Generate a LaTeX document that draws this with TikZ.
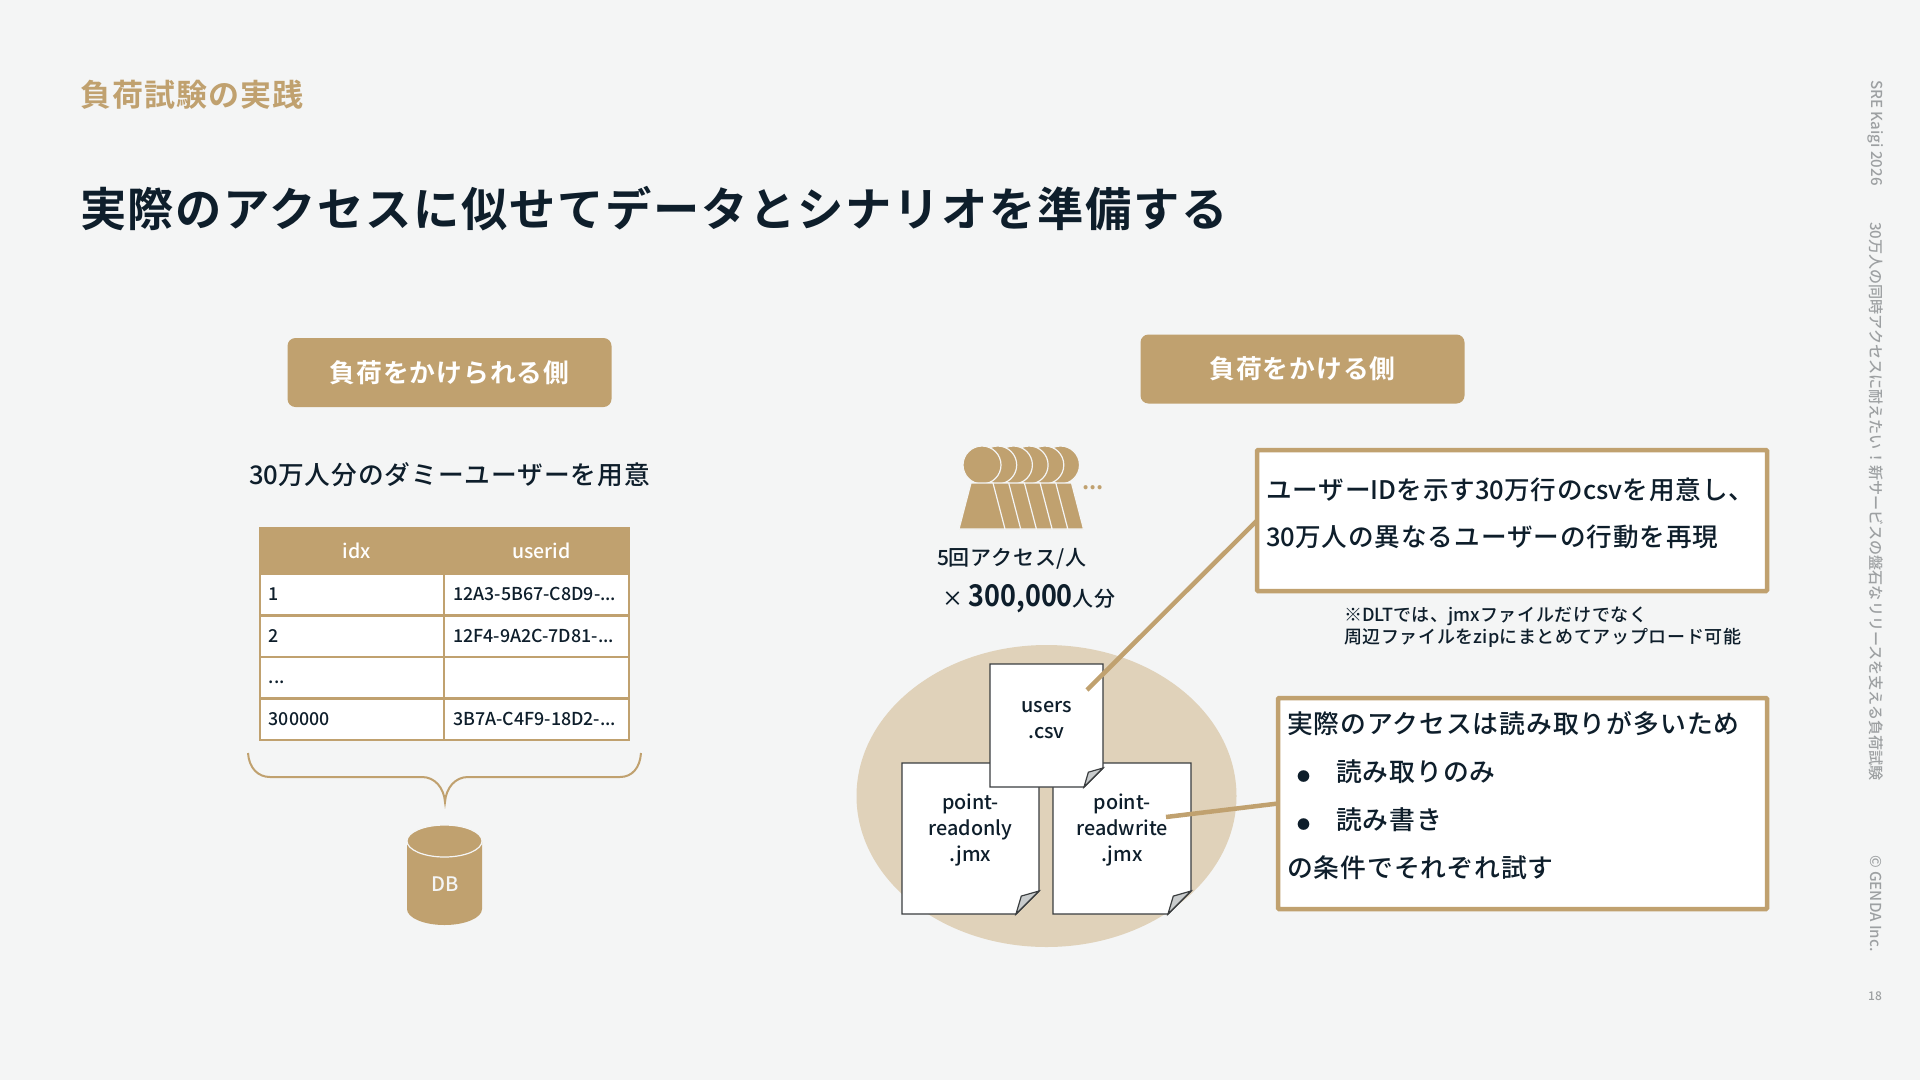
\documentclass[tikz,border=0pt]{standalone}
\usepackage{fontspec}
\setmainfont[LetterSpace=3.7,UprightFont=* Medium,BoldFont=* Bold]{Noto Sans CJK JP}
\newfontfamily\plainjp[UprightFont=* Medium,BoldFont=* Bold]{Noto Sans CJK JP}
\newcommand{\lat}[1]{{\plainjp #1}}
\usetikzlibrary{positioning,calc}
\definecolor{gendabg}{HTML}{F4F5F5}
\definecolor{gendatan}{HTML}{C0A16F}
\definecolor{gendasand}{HTML}{E0D2BA}
\definecolor{gendaink}{HTML}{0E1E2B}
\definecolor{gendagray}{HTML}{9DA0A2}
\definecolor{gendafold}{HTML}{C9CCCD}
\definecolor{gendaedge}{HTML}{3A3D3F}

\begin{document}
\begin{tikzpicture}[
  x=1pt,y=-1pt,
  txt/.style={inner sep=0pt,outer sep=0pt,text=gendaink,align=left},
  tagbox/.style={fill=gendatan,rounded corners=8pt,minimum width=324pt,minimum height=69pt,text=white,font=\fontsize{25.8}{32}\selectfont\bfseries},
  headcell/.style={draw=gendatan,line width=2.2pt,fill=gendatan,outer sep=0pt,minimum width=184.5pt,minimum height=46pt,text=white,font=\plainjp\fontsize{19.5}{24}\selectfont},
  cell/.style={draw=gendatan,line width=2.2pt,fill=white,outer sep=0pt,inner xsep=9pt,inner ysep=0pt,text width=166.5pt,minimum height=41.5pt,text height=14pt,text depth=2pt,text=gendaink,align=left,font=\plainjp\fontsize{17.8}{22}\selectfont},
  notebox/.style={draw=gendatan,line width=4.5pt,fill=white,rounded corners=1pt,outer sep=0pt},
  pointer/.style={draw=gendatan,line width=4.5pt},
  sidetxt/.style={inner sep=0pt,text=gendagray,rotate=-90,anchor=west,font=\plainjp\fontsize{15.1}{18}\selectfont}
]
  \fill[gendabg] (0,0) rectangle (1920,1080);

  \node[txt,anchor=west,text=gendatan,font=\fontsize{31}{36}\selectfont\bfseries] (section) at (80,95) {負荷試験の実践};
  \node[txt,anchor=west,font=\fontsize{46.3}{56}\selectfont\bfseries] (headline) at (80,208.5) {実際のアクセスに似せてデータとシナリオを準備する};

  \node[sidetxt] (conf) at (1876,80) {SRE Kaigi 2026};
  \node[sidetxt] (talk) at (1876,222) {30万人の同時アクセスに耐えたい！新サービスの盤石なリリースを支える負荷試験};
  \node[sidetxt] (copy) at (1876,855) {© GENDA Inc.};
  \node[inner sep=0pt,text=gendagray,font=\plainjp\fontsize{12}{14}\selectfont] (pageno) at (1875,996) {18};

  \node[tagbox] (targettag) at (449.5,372.5) {負荷をかけられる側};
  \node[tagbox] (loadtag) at (1302.5,369) {負荷をかける側};

  \node[txt,font=\fontsize{25.7}{32}\selectfont] (dummy) at (449.5,475) {\lat{30}万人分のダミーユーザーを用意};

  \node[headcell] (idx) at (352,551) {\hspace*{10pt}idx};
  \node[headcell,right=0pt of idx] (userid) {\hspace*{10pt}userid};
  \node[cell,below=0pt of idx] (row1a) {1};
  \node[cell,below=0pt of userid] (row1b) {12A3-5B67-C8D9-...};
  \node[cell,below=0pt of row1a] (row2a) {2};
  \node[cell,below=0pt of row1b] (row2b) {12F4-9A2C-7D81-...};
  \node[cell,below=0pt of row2a] (row3a) {...};
  \node[cell,below=0pt of row2b] (row3b) {};
  \node[cell,below=0pt of row3a] (row4a) {300000};
  \node[cell,below=0pt of row3b] (row4b) {3B7A-C4F9-18D2-...};

  \draw[gendatan,line width=2pt] (248,753) .. controls (249,768) and (258,777) .. (270,777) -- (422,777)
    .. controls (435,777) and (444,788) .. (445,802) .. controls (446,788) and (455,777) .. (468,777)
    -- (620,777) .. controls (632,777) and (640,768) .. (641,753);

  \fill[gendatan] (407,842) -- (407,909) arc[start angle=180,end angle=360,x radius=37.5,y radius=-16] -- (482,842) -- cycle;
  \draw[gendabg,line width=1.2pt,fill=gendatan] (444.5,841) ellipse[x radius=37.5,y radius=16];
  \node[inner sep=0pt,text=gendabg,font=\plainjp\fontsize{20}{24}\selectfont] (dblabel) at (445,884) {DB};

  \foreach \px in {5,4,3,2,1,0} {
    \filldraw[fill=gendatan,draw=gendabg,line width=1.2pt] ($(982,465)+(\px*15.7,0)$) circle[radius=19];
    \filldraw[fill=gendatan,draw=gendabg,line width=1.2pt] ($(971,483)+(\px*15.7,0)$) -- ($(993,483)+(\px*15.7,0)$) -- ($(1005,529)+(\px*15.7,0)$) -- ($(959,529)+(\px*15.7,0)$) -- cycle;
  }
  \node[inner sep=0pt,text=gendatan,font=\plainjp\fontsize{22}{24}\selectfont\bfseries] (moredots) at (1093,488) {...};

  \node[txt,anchor=west,font=\fontsize{21}{24}\selectfont] (perperson) at (937,559) {\lat{5}回アクセス/人};
  \node[txt,anchor=base west,font=\fontsize{21}{26}\selectfont] (times) at (942,606) {× \scalebox{0.9}[1]{\plainjp\fontsize{30}{38}\selectfont\bfseries 300,000}人分};

  \fill[gendasand] (1046.5,796) ellipse[x radius=190,y radius=151];

  \foreach \docname/\lx/\ty/\rx/\by/\fs/\cy/\doctext in {
    readonly/902/763/1039/914/23/830/{point-\\readonly\\.jmx},
    readwrite/1053/763/1191/914/23/830/{point-\\readwrite\\.jmx},
    users/990/664/1103/787/19/720/{users\\.csv}} {
    \draw[fill=white,draw=gendaedge,line width=1.4pt] (\lx,\ty) -- (\rx,\ty) -- (\rx,\by-\fs) -- (\rx-\fs,\by) -- (\lx,\by) -- cycle;
    \draw[fill=gendafold,draw=gendaedge,line width=1.2pt] (\rx,\by-\fs) -- (\rx-0.77*\fs,\by-0.78*\fs) -- (\rx-\fs,\by) -- cycle;
    \node[inner sep=0pt,align=center,text=gendaink,font=\plainjp\fontsize{19.8}{25.7}\selectfont] (\docname) at ({(\lx+\rx)/2},\cy) {\doctext};
  }

  \node[notebox,minimum width=510pt,minimum height=141pt] (csvnote) at (1512,520.5) {};
  \node[txt,anchor=west,font=\fontsize{25.6}{47.5}\selectfont] (csvtext) at (1266,513.5) {ユーザー\lat{ID}を示す\lat{30}万行の\lat{csv}を用意し、\\\lat{30}万人の異なるユーザーの行動を再現};
  \node[txt,anchor=north west,font=\fontsize{18}{22}\selectfont] (dltnote) at (1344,606.5) {※\lat{DLT}では、\lat{jmx}ファイルだけでなく\\周辺ファイルを\lat{zip}にまとめてアップロード可能};

  \node[notebox,minimum width=489pt,minimum height=211pt] (scenarionote) at (1522.5,803.5) {};
  \node[txt,anchor=north west,font=\fontsize{25.8}{48}\selectfont] (scenariotext) at (1287,711.5) {実際のアクセスは読み取りが多いため\\\makebox[49pt][l]{\hspace{10pt}\plainjp\fontsize{13}{13}\selectfont ●}読み取りのみ\\\makebox[49pt][l]{\hspace{10pt}\plainjp\fontsize{13}{13}\selectfont ●}読み書き\\の条件でそれぞれ試す};

  \coordinate (usersend) at (1087,690);
  \coordinate (writeend) at (1166,817);
  \draw[pointer] (csvnote.west) -- (usersend);
  \draw[pointer] (scenarionote.west) -- (writeend);
\end{tikzpicture}
\end{document}
